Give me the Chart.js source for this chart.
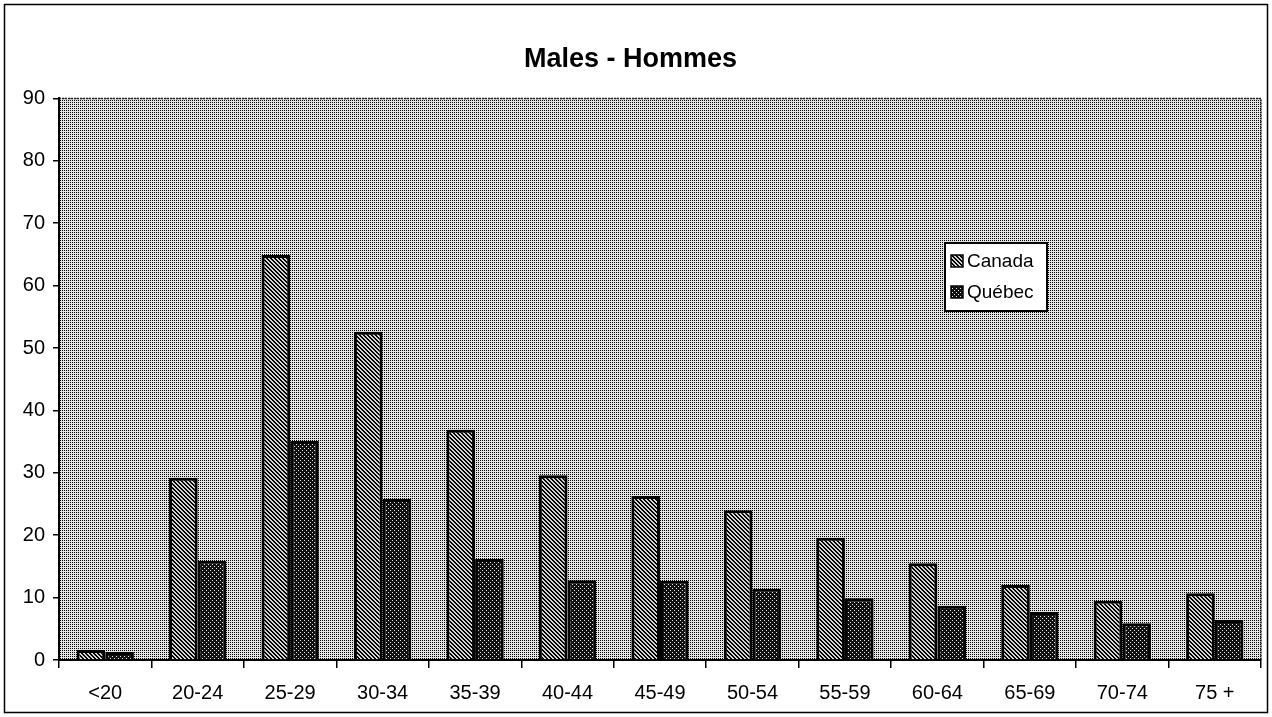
<!DOCTYPE html>
<html>
<head>
<meta charset="utf-8">
<script src="https://cdn.jsdelivr.net/npm/chart.js@4/dist/chart.umd.min.js"></script>
<style>
  html, body { margin: 0; padding: 0; background: #fff; }
  #wrap { width: 1272px; height: 717px; }
</style>
</head>
<body>
<div id="wrap"><canvas id="malesChart" width="1272" height="717"></canvas></div>
<script>
const categories = ['<20', '20-24', '25-29', '30-34', '35-39', '40-44', '45-49', '50-54', '55-59', '60-64', '65-69', '70-74', '75 +'];
const canadaValues = [1.6, 29.2, 64.9, 52.6, 36.9, 29.6, 26.3, 24.0, 19.6, 15.5, 12.0, 9.5, 10.7];
const quebecValues = [1.3, 15.9, 35.1, 25.8, 16.2, 12.8, 12.7, 11.4, 9.9, 8.7, 7.7, 5.9, 6.4];
const seriesNames = ['Canada', 'Québec'];
const yMin = 0, yMax = 90, yStep = 10;

// little tiles used as fill patterns (the original is a b/w print)
function makePattern(size, bg, fg, pixels) {
    const c = document.createElement('canvas');
    c.width = size; c.height = size;
    const g = c.getContext('2d');
    g.fillStyle = bg;
    g.fillRect(0, 0, size, size);
    g.fillStyle = fg;
    pixels.forEach(p => g.fillRect(p[0], p[1], 1, 1));
    return document.getElementById('malesChart').getContext('2d').createPattern(c, 'repeat');
}

const bgPattern = makePattern(2, '#e4e4e4', '#000000', [[0, 0]]);
const canadaPattern = makePattern(4, '#d6d6d6', '#000000', [[0, 0], [1, 1], [2, 2], [3, 3], [1, 0], [2, 1], [3, 2], [0, 3]]);
const quebecPattern = makePattern(4, '#111111', '#e8e8e8', [[0, 0], [2, 2]]);
const seriesFills = [canadaPattern, quebecPattern];

const FONT = "'Liberation Sans', Arial, Helvetica, sans-serif";

const plotBackground = {
    id: 'plotBackground',
    beforeDraw(chart) {
        const a = chart.chartArea, ctx = chart.ctx;
        ctx.save();
        ctx.fillStyle = bgPattern;
        ctx.fillRect(a.left, a.top, a.right - a.left, a.bottom - a.top);
        ctx.strokeStyle = '#222';
        ctx.lineWidth = 1.5;
        ctx.setLineDash([2, 1]);
        ctx.beginPath();
        ctx.moveTo(a.left, a.top);
        ctx.lineTo(a.right, a.top);
        ctx.lineTo(a.right, a.bottom);
        ctx.stroke();
        ctx.setLineDash([]);
        // outer frame of the figure
        ctx.strokeStyle = '#000';
        ctx.lineWidth = 1.5;
        ctx.strokeRect(4.5, 4.5, chart.width - 9, chart.height - 9);
        ctx.restore();
    }
};

const boxLegend = {
    id: 'boxLegend',
    afterDraw(chart) {
        const ctx = chart.ctx;
        const x = 945, y = 243, w = 102, h = 68;
        ctx.save();
        ctx.fillStyle = '#fff';
        ctx.fillRect(x, y, w, h);
        ctx.strokeStyle = '#000';
        ctx.lineWidth = 2;
        ctx.strokeRect(x, y, w, h);
        ctx.font = '19px ' + FONT;
        ctx.textBaseline = 'middle';
        seriesNames.forEach((name, i) => {
            const cy = y + 18 + i * 31;
            ctx.fillStyle = seriesFills[i];
            ctx.fillRect(x + 6, cy - 6, 12, 12);
            ctx.strokeStyle = '#000';
            ctx.lineWidth = 1.5;
            ctx.strokeRect(x + 6, cy - 6, 12, 12);
            ctx.fillStyle = '#000';
            ctx.fillText(name, x + 22, cy + 1);
        });
        ctx.restore();
    }
};

new Chart(document.getElementById('malesChart').getContext('2d'), {
    type: 'bar',
    data: {
        labels: categories,
        datasets: [
            {
                label: seriesNames[0],
                data: canadaValues,
                backgroundColor: canadaPattern,
                borderColor: '#000',
                borderWidth: 3,
            },
            {
                label: seriesNames[1],
                data: quebecValues,
                backgroundColor: quebecPattern,
                borderColor: '#000',
                borderWidth: 3,
            },
        ],
    },
    options: {
        responsive: false,
        animation: false,
        layout: { padding: { left: 0, right: 11, top: 0, bottom: 0 } },
        categoryPercentage: 0.62,
        barPercentage: 1.0,
        plugins: {
            legend: { display: false },
            tooltip: { enabled: false },
            title: {
                display: true,
                text: 'Males - Hommes',
                color: '#000',
                font: { family: FONT, size: 27, weight: 'bold' },
                padding: { top: 43, bottom: 23 },
            },
        },
        scales: {
            x: {
                offset: true,
                grid: { display: true, drawOnChartArea: false, drawTicks: true, tickLength: 8, color: '#000', lineWidth: 1.5, offset: true },
                border: { display: true, color: '#000', width: 2 },
                ticks: { color: '#000', font: { family: FONT, size: 20 }, padding: 13, maxRotation: 0 },
                afterFit: function (scale) { scale.height = 57; },
            },
            y: {
                min: yMin,
                max: yMax,
                ticks: { stepSize: yStep, color: '#000', font: { family: FONT, size: 20 }, padding: 8 },
                grid: { display: true, drawOnChartArea: false, drawTicks: true, tickLength: 6, color: '#000', lineWidth: 1.5 },
                border: { display: true, color: '#000', width: 2 },
                afterFit: function (scale) { scale.width = 59; },
            },
        },
    },
    plugins: [plotBackground, boxLegend],
});
</script>
</body>
</html>
